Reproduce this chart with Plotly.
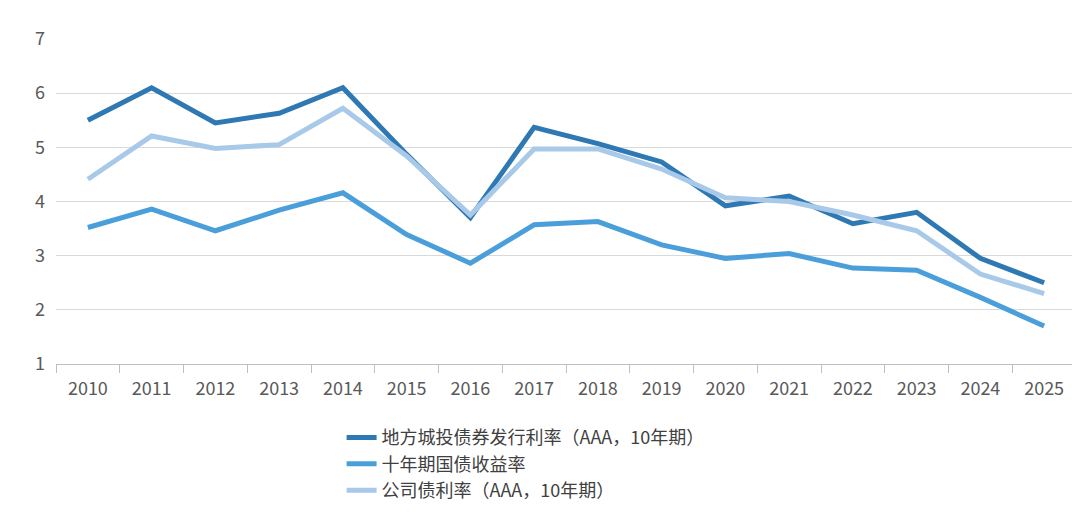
import plotly.graph_objects as go

years = [str(y) for y in range(2010, 2026)]
chengtou = [5.5, 6.1, 5.45, 5.63, 6.1, 4.87, 3.7, 5.37, 5.07, 4.73, 3.92, 4.1, 3.59, 3.8, 2.95, 2.5]
guozhai = [3.52, 3.86, 3.46, 3.84, 4.16, 3.39, 2.86, 3.57, 3.63, 3.2, 2.95, 3.04, 2.77, 2.73, 2.23, 1.7]
gongsi = [4.41, 5.21, 4.98, 5.05, 5.72, 4.84, 3.75, 4.97, 4.97, 4.6, 4.07, 4.0, 3.75, 3.46, 2.66, 2.3]

names = ["地方城投债券发行利率（AAA，10年期）", "十年期国债收益率", "公司债利率（AAA，10年期）"]
colors = ["#2E78B3", "#4A9FDB", "#A9C9E9"]

fig = go.Figure()
for name, vals, c in zip(names, [chengtou, guozhai, gongsi], colors):
    fig.add_trace(go.Scatter(x=years, y=vals, name=name, mode="lines",
                             line=dict(color=c, width=5)))

fig.update_layout(
    width=1080, height=513,
    plot_bgcolor="white", paper_bgcolor="white",
    margin=dict(l=48, r=12, t=31, b=146),
    font=dict(family="Noto Sans CJK SC, Lato, sans-serif", size=18, color="#595959"),
    legend=dict(orientation="v", x=0.28, xanchor="left", y=-0.17, yanchor="top",
                font=dict(size=18, color="#404040"), tracegroupgap=0),
    showlegend=True,
)
fig.update_xaxes(showgrid=False, showline=True, linecolor="#BFBFBF", linewidth=1,
                 range=[-0.5, 15.5], ticks="outside", tickson="boundaries", ticklen=8,
                 tickcolor="#BFBFBF", ticklabelstandoff=8)
fig.update_yaxes(range=[1, 7], dtick=1, showgrid=True, gridcolor="#D9D9D9",
                 zeroline=False, showline=False, ticklabelstandoff=10)

fig.write_html("out.html")
